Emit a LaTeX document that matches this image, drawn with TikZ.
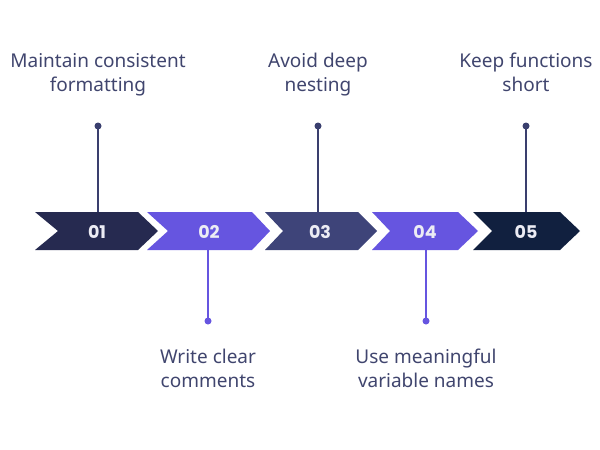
\documentclass[tikz,border=0pt]{standalone}
\usepackage{fontspec}
\setmainfont{Noto Sans}
\newfontfamily\numfont{Poppins}
\definecolor{cA}{HTML}{262A50}
\definecolor{cB}{HTML}{6655E0}
\definecolor{cC}{HTML}{3E4479}
\definecolor{cD}{HTML}{6655E0}
\definecolor{cE}{HTML}{11203F}
\definecolor{txt}{HTML}{40456E}
\definecolor{numtxt}{HTML}{ECECF4}
\definecolor{lnTop}{HTML}{3A3F6E}
\definecolor{lnBot}{HTML}{6655E0}
\begin{document}
\begin{tikzpicture}[x=1pt,y=-1pt,
  num/.style={font=\numfont\bfseries\fontsize{17.5}{20}\selectfont, text=numtxt, inner sep=0pt},
  lbl/.style={font=\fontsize{19}{24}\selectfont, text=txt, align=center, inner sep=0pt},
  stem/.style={line width=2pt},
  dot/.style={circle, fill, inner sep=0pt, minimum size=7pt}]
\useasboundingbox (0,0) rectangle (600,450);
% chevrons
\fill[cA] (35,212) -- (138,212) -- (158,231) -- (138,250) -- (35,250) -- (58,231) -- cycle;
\fill[cB] (147,212) -- (252,212) -- (270,231) -- (252,250) -- (147,250) -- (168,231) -- cycle;
\fill[cC] (265,212) -- (358,212) -- (377,231) -- (358,250) -- (265,250) -- (283,231) -- cycle;
\fill[cD] (372,212) -- (458,212) -- (478,231) -- (458,250) -- (372,250) -- (390,231) -- cycle;
\fill[cE] (473,212) -- (560,212) -- (580,231) -- (560,250) -- (473,250) -- (492,231) -- cycle;
% numbers
\node[num] (n1) at (97,232) {01};
\node[num] (n2) at (209,232) {02};
\node[num] (n3) at (320,232) {03};
\node[num] (n4) at (425,232) {04};
\node[num] (n5) at (526,232) {05};
% chevron edge coordinates
\coordinate (t1) at (98,212);
\coordinate (b2) at (208,250);
\coordinate (t3) at (318,212);
\coordinate (b4) at (426,250);
\coordinate (t5) at (526,212);
% dots
\node[dot, lnTop] (d1) at (98,126) {};
\node[dot, lnBot] (d2) at (208,321) {};
\node[dot, lnTop] (d3) at (318,126) {};
\node[dot, lnBot] (d4) at (426,321) {};
\node[dot, lnTop] (d5) at (526,126) {};
\draw[stem, lnTop] (d1.center) -- (t1);
\draw[stem, lnBot] (d2.center) -- (b2);
\draw[stem, lnTop] (d3.center) -- (t3);
\draw[stem, lnBot] (d4.center) -- (b4);
\draw[stem, lnTop] (d5.center) -- (t5);
% labels
\node[lbl] (l1) at (98,75) {Maintain consistent\strut\\formatting\strut};
\node[lbl] (l2) at (208,371) {Write clear\strut\\comments\strut};
\node[lbl] (l3) at (318,75) {Avoid deep\strut\\nesting\strut};
\node[lbl] (l4) at (426,371) {Use meaningful\strut\\variable names\strut};
\node[lbl] (l5) at (526,75) {Keep functions\strut\\short\strut};
\end{tikzpicture}
\end{document}
